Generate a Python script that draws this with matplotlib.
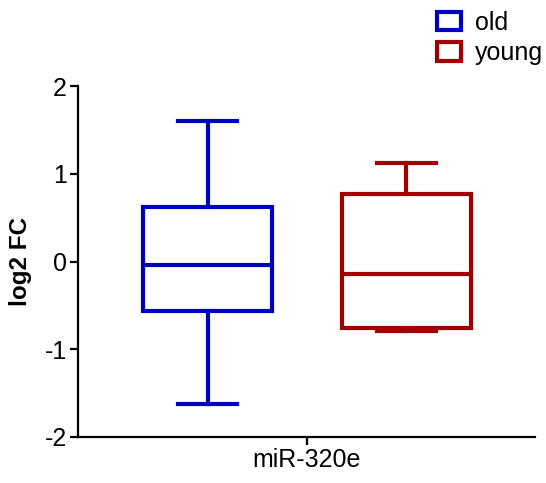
import matplotlib
matplotlib.use("Agg")
import matplotlib.pyplot as plt
from matplotlib.patches import Patch

plt.rcParams['font.family'] = ['Liberation Sans', 'DejaVu Sans']

groups = ["old", "young"]
colors = ["#0000C0", "#A00000"]
category = "miR-320e"
whislo = [-1.62, -0.79]
q1 = [-0.56, -0.76]
med = [-0.04, -0.14]
q3 = [0.62, 0.77]
whishi = [1.60, 1.12]
yticks = [-2, -1, 0, 1, 2]

fig = plt.figure(figsize=(5.46, 4.83), dpi=100)
ax = fig.add_axes([78/546, 46/483, (535-78)/546, (437-86)/483])

positions = [1, 2]
for i, g in enumerate(groups):
    stats = [dict(whislo=whislo[i], q1=q1[i], med=med[i], q3=q3[i], whishi=whishi[i], fliers=[], label=g)]
    lw = 3.0
    ax.bxp(stats, positions=[positions[i]], widths=0.648, showfliers=False,
           patch_artist=True,
           boxprops=dict(facecolor='white', edgecolor=colors[i], linewidth=lw),
           whiskerprops=dict(color=colors[i], linewidth=lw),
           capprops=dict(color=colors[i], linewidth=lw),
           medianprops=dict(color=colors[i], linewidth=lw),
           capwidths=0.30, manage_ticks=False)

ax.set_xlim(0.349, 2.646)
ax.set_ylim(-2, 2)
ax.set_yticks(yticks)
ax.set_yticklabels([str(t) for t in yticks], fontsize=18)
ax.set_xticks([1.5])
ax.set_xticklabels([category], fontsize=18)
ax.set_ylabel("log2 FC", fontsize=17.5, fontweight='bold', labelpad=9)
for s in ['top', 'right']:
    ax.spines[s].set_visible(False)
for s in ['left', 'bottom']:
    ax.spines[s].set_linewidth(1.6)
ax.tick_params(width=1.6, length=6, pad=2)

handles = [Patch(facecolor='white', edgecolor=c, linewidth=3, label=g) for g, c in zip(groups, colors)]
fig.legend(handles=handles, loc='upper left', bbox_to_anchor=(437/546, 1-11/483),
           frameon=False, fontsize=18, handlelength=0.95, handleheight=0.75,
           handletextpad=0.55, labelspacing=0.25, borderpad=0, borderaxespad=0)

fig.savefig("out.png", dpi=100)
